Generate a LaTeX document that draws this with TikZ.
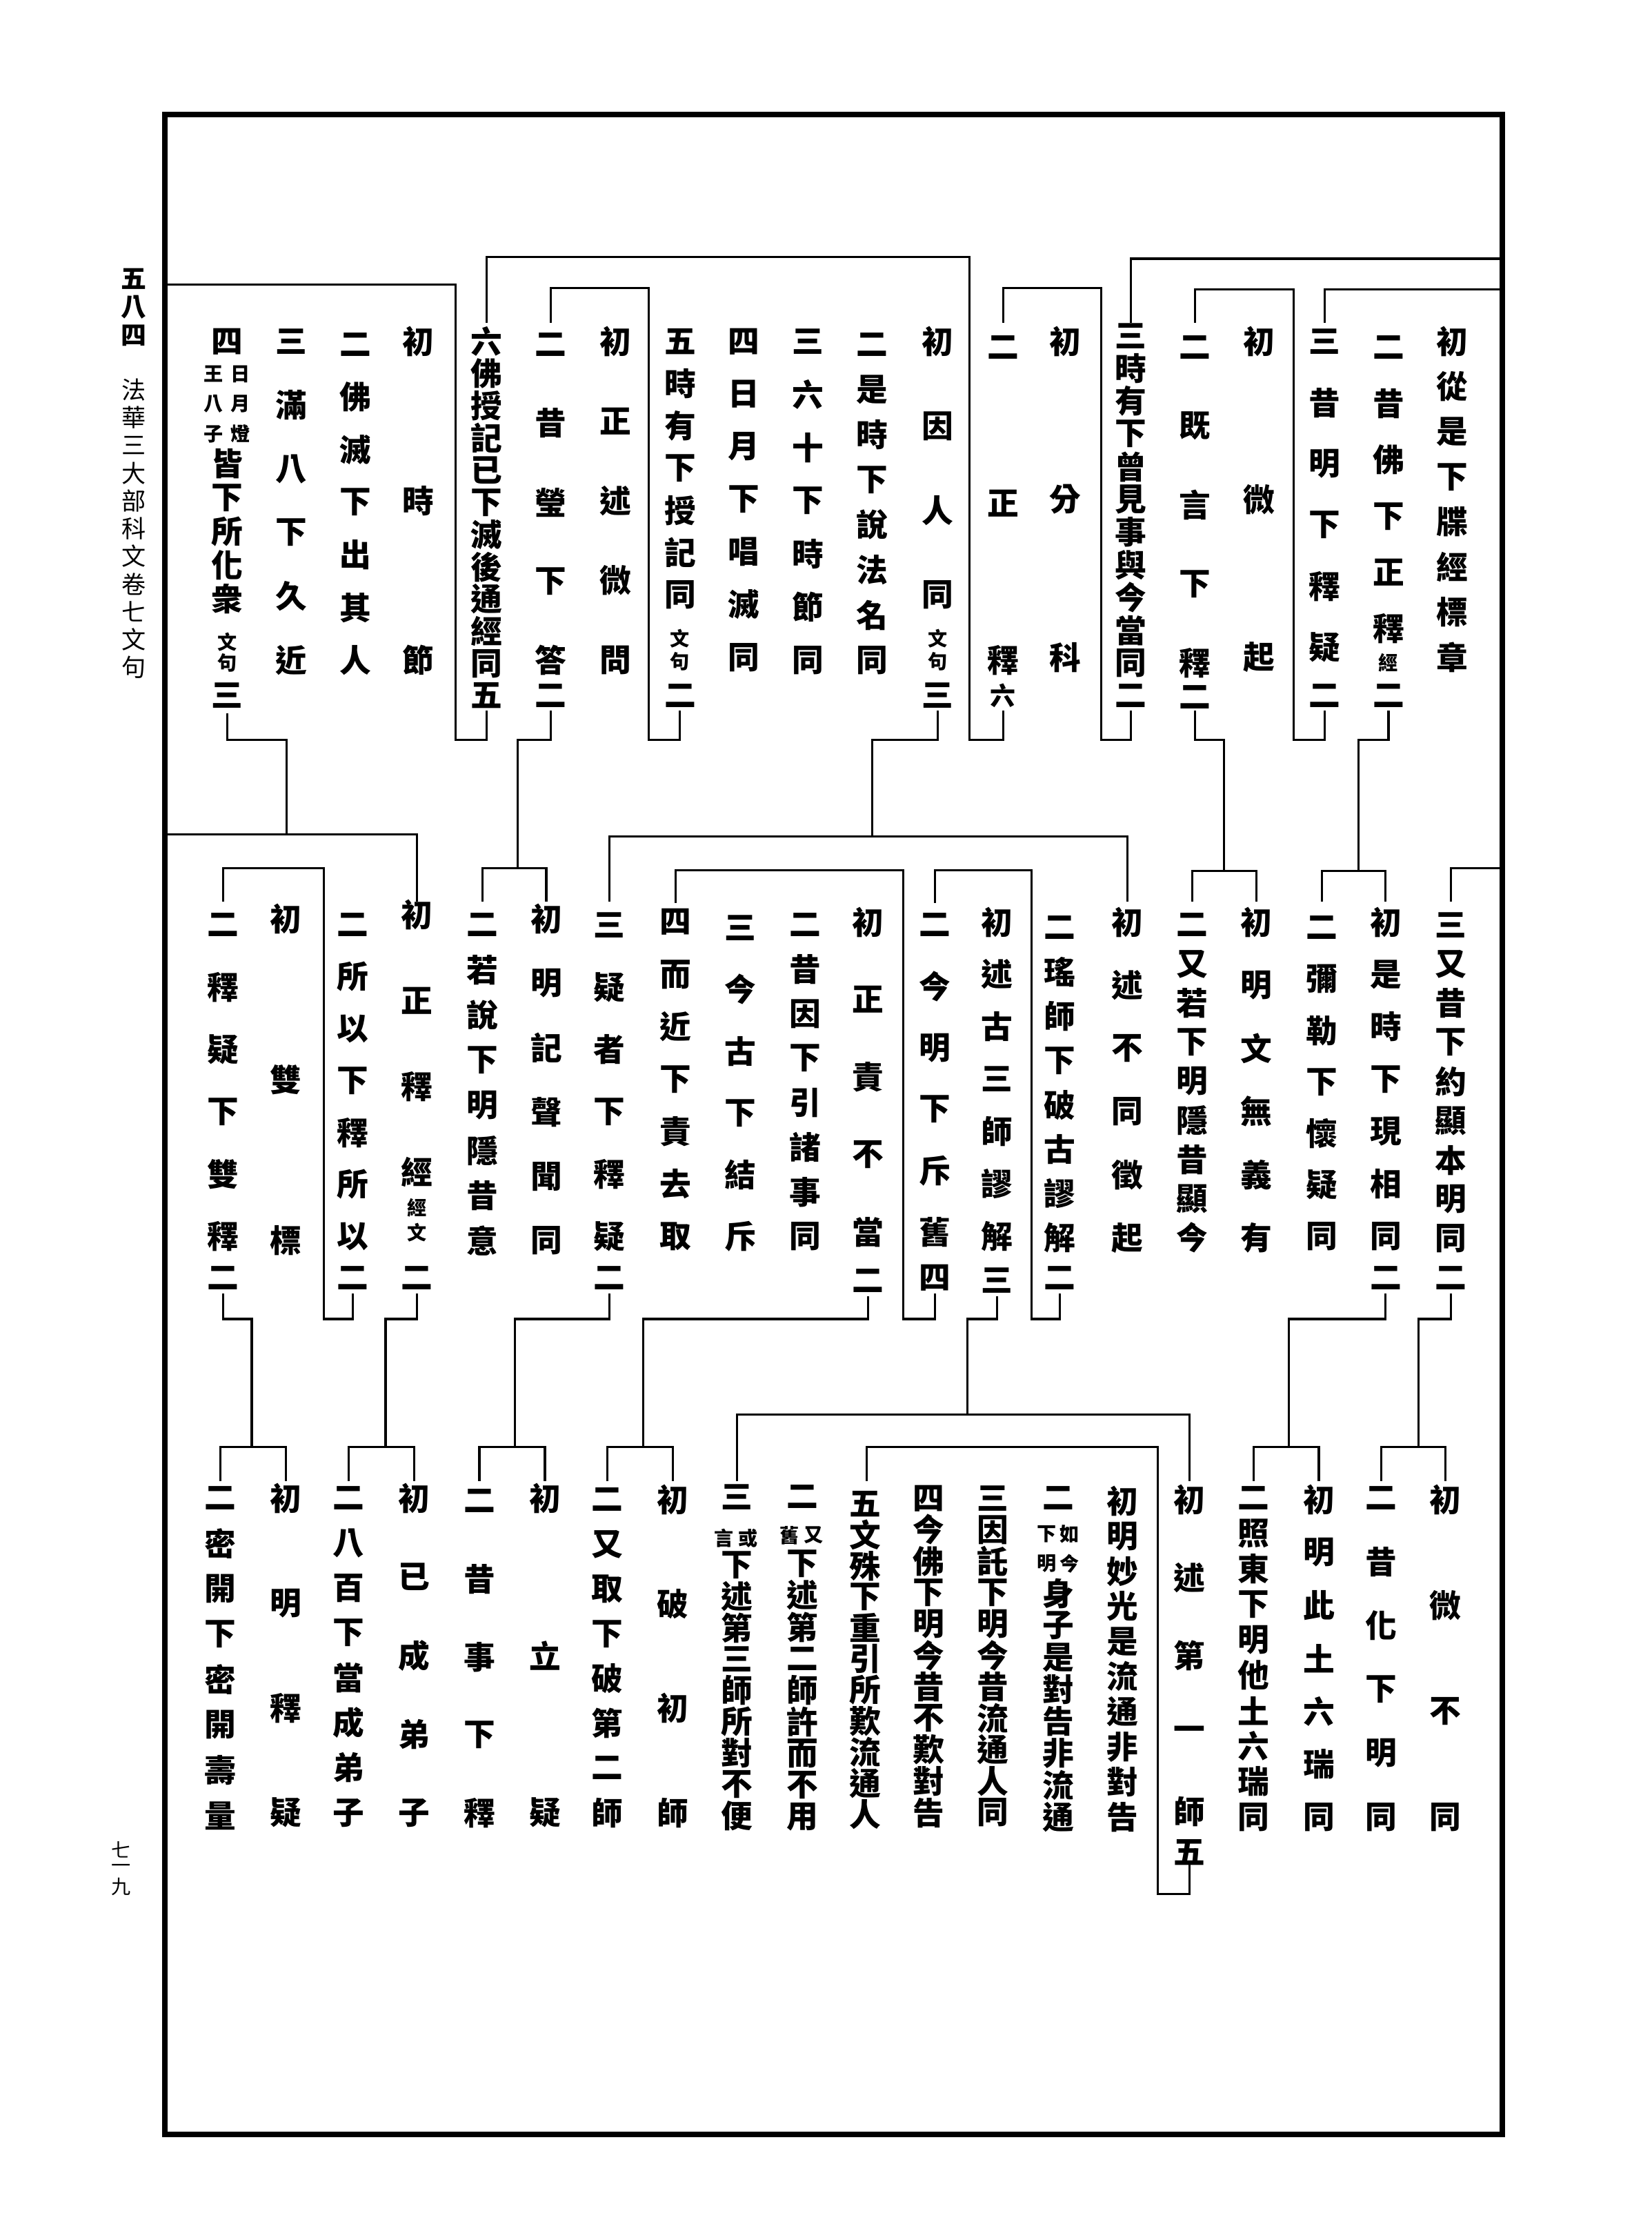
\documentclass[tikz,border=0pt]{standalone}
\usepackage{fontspec}
\newfontfamily\cjk{Noto Sans CJK TC}
\tikzset{
  ch/.style={font=\cjk\bfseries\fontsize{13}{13}\selectfont,inner sep=0pt,anchor=center},
  chs/.style={font=\cjk\bfseries\fontsize{10.5}{10.5}\selectfont,inner sep=0pt,anchor=center},
  sm/.style={font=\cjk\bfseries\fontsize{8}{8}\selectfont,inner sep=0pt,anchor=center},
  marg/.style={font=\cjk\fontsize{10}{10}\selectfont,inner sep=0pt,anchor=center},
  margb/.style={font=\cjk\bfseries\fontsize{10.5}{10.5}\selectfont,inner sep=0pt,anchor=center},
  ln/.style={line width=0.9pt,line join=miter,line cap=rect},
  frame/.style={line width=2.2pt,line join=miter}
}
% name, x, ytop, ybot, n, list
\newcommand\vcol[6]{%
  \foreach \mych [count=\i from 0] in {#6}{%
    \node[ch] (#1-\i) at (#2,{#3+\i*(#4-#3)/(#5-1)}) {\mych};
  }}
\begin{document}
\begin{tikzpicture}[x=0.2062mm,y=-0.2062mm]
\useasboundingbox (0,0) rectangle (1161,1568);
\fill[white] (0,0) rectangle (1161,1568);
% frame
\draw[frame] (116,80.5) rectangle (1056,1500);
% margin text
\foreach \mych [count=\i from 0] in {五,八,四}{\node[margb] (pg-\i) at (94,{196+\i*20}) {\mych};}
\foreach \mych [count=\i from 0] in {法,華,三,大,部,科,文,卷,七,文,句}{\node[marg] (tt-\i) at (94,{274+\i*19.5}) {\mych};}
\foreach \mych [count=\i from 0] in {七,一,九}{\node[font=\cjk\fontsize{8}{8}\selectfont,inner sep=0pt] (pn-\i) at (85,{1300+\i*13}) {\mych};}

% ================= TIER 1 =================
\vcol{a0}{1021}{240}{462}{8}{初,從,是,下,牒,經,標,章}
\vcol{a1}{976}{244}{442}{6}{二,昔,佛,下,正,釋}
\node[sm] (a1s) at (976,466) {經}; \node[ch] (a1n) at (976,489) {二};
\vcol{a2}{931}{240}{455}{6}{三,昔,明,下,釋,疑}
\node[ch] (a2n) at (931,489) {二};
\vcol{a3}{885}{240}{462}{3}{初,微,起}
\vcol{a4}{840}{244}{466}{5}{二,既,言,下,釋}
\node[ch] (a4n) at (840,490) {二};
\vcol{a5}{795}{236}{489}{12}{三,時,有,下,曾,見,事,與,今,當,同,二}
\vcol{a6}{749}{240}{462}{3}{初,分,科}
\vcol{a7}{705}{244}{464}{3}{二,正,釋}
\node[chs] (a7n) at (705,489) {六};
\vcol{a8}{659}{240}{418}{4}{初,因,人,同}
\node[sm] (a8s1) at (659,449) {文}; \node[sm] (a8s2) at (659,465) {句}; \node[ch] (a8n) at (659,489) {三};
\vcol{a9}{613}{242}{464}{8}{二,是,時,下,說,法,名,同}
\vcol{a10}{568}{240}{464}{7}{三,六,十,下,時,節,同}
\vcol{a11}{523}{240}{462}{7}{四,日,月,下,唱,滅,同}
\vcol{a12}{478}{240}{418}{7}{五,時,有,下,授,記,同}
\node[sm] (a12s1) at (478,449) {文}; \node[sm] (a12s2) at (478,465) {句}; \node[ch] (a12n) at (478,489) {二};
\vcol{a13}{432.5}{240}{464}{5}{初,正,述,微,問}
\vcol{a14}{387}{242}{464}{5}{二,昔,瑩,下,答}
\node[ch] (a14n) at (387,489) {二};
\vcol{a15}{342}{240}{489}{12}{六,佛,授,記,已,下,滅,後,通,經,同,五}
\vcol{a16}{294}{240}{464}{3}{初,時,節}
\vcol{a17}{250}{242}{464}{7}{二,佛,滅,下,出,其,人}
\vcol{a18}{205}{240}{464}{6}{三,滿,八,下,久,近}
\node[ch] (a19h) at (159.6,240) {四};
\node[sm] (a19r1) at (169,263) {日}; \node[sm] (a19r2) at (169,284) {月}; \node[sm] (a19r3) at (169,305) {燈};
\node[sm] (a19l1) at (150,263) {王}; \node[sm] (a19l2) at (150,284) {八}; \node[sm] (a19l3) at (150,305) {子};
\vcol{a19}{159.6}{326}{421}{5}{皆,下,所,化,衆}
\node[sm] (a19s1) at (160,451) {文}; \node[sm] (a19s2) at (160,466) {句}; \node[ch] (a19n) at (159.6,489) {三};

% tier 1 brackets (top)
\draw[ln] (1056,181.8) -- (795,181.8) -- (795,226);
\draw[ln] (1056,203.5) -- (931,203.5) -- (931,226);
\draw[ln] (840,226) -- (840,203.5) -- (909.5,203.5) -- (909.5,520);
\draw[ln] (705,226) -- (705,202.5) -- (774,202.5) -- (774,520);
\draw[ln] (342,226) -- (342,180.6) -- (681.4,180.6) -- (681.4,520);
\draw[ln] (387,226) -- (387,202.5) -- (456,202.5) -- (456,520);
\draw[ln] (116,200) -- (320.4,200) -- (320.4,520);
% tier 1 brackets (bottom)
\draw[ln] (976,500) -- (976,520) -- (954.7,520) -- (954.7,612);
\draw[ln] (931,500) -- (931,520) -- (909.5,520);
\draw[ln] (840,500) -- (840,520) -- (860.5,520) -- (860.5,612);
\draw[ln] (795,500) -- (795,520) -- (774,520);
\draw[ln] (705,500) -- (705,520) -- (681.4,520);
\draw[ln] (659,500) -- (659,520) -- (613,520) -- (613,588);
\draw[ln] (478,500) -- (478,520) -- (456,520);
\draw[ln] (387,500) -- (387,520) -- (364,520) -- (364,610);
\draw[ln] (342,500) -- (342,520) -- (320.4,520);
\draw[ln] (159.6,502) -- (159.6,520) -- (201.5,520) -- (201.5,586.4);

% ================= TIER 2 =================
\vcol{b0}{1020}{650}{898}{10}{三,又,昔,下,約,顯,本,明,同,二}
\vcol{b1}{974}{648}{869}{7}{初,是,時,下,現,相,同}
\node[ch] (b1n) at (974,898) {二};
\vcol{b2}{929}{652}{869}{7}{二,彌,勒,下,懷,疑,同}
\vcol{b3}{883}{648}{870}{6}{初,明,文,無,義,有}
\vcol{b4}{838}{650}{870}{9}{二,又,若,下,明,隱,昔,顯,今}
\vcol{b5}{792.4}{648}{870}{6}{初,述,不,同,徵,起}
\vcol{b6}{745}{652}{870}{8}{二,瑤,師,下,破,古,謬,解}
\node[ch] (b6n) at (745,898) {二};
\vcol{b7}{701}{648}{869}{7}{初,述,古,三,師,謬,解}
\node[ch] (b7n) at (701,900) {三};
\vcol{b8}{657}{650}{866}{6}{二,今,明,下,斥,舊}
\node[ch] (b8n) at (657,898) {四};
\vcol{b9}{610}{648}{866}{5}{初,正,責,不,當}
\node[ch] (b9n) at (610,900) {二};
\vcol{b10}{566}{650}{869}{8}{二,昔,因,下,引,諸,事,同}
\vcol{b11}{520.5}{652}{869}{6}{三,今,古,下,結,斥}
\vcol{b12}{475}{648}{869}{7}{四,而,近,下,責,去,取}
\vcol{b13}{428.5}{650}{869}{6}{三,疑,者,下,釋,疑}
\node[ch] (b13n) at (428.5,898) {二};
\vcol{b14}{384}{646}{872}{6}{初,明,記,聲,聞,同}
\vcol{b15}{339}{650}{872}{8}{二,若,說,下,明,隱,昔,意}
\vcol{b16}{293}{643}{824}{4}{初,正,釋,經}
\node[sm] (b16s1) at (293,849) {經}; \node[sm] (b16s2) at (293,866) {文}; \node[ch] (b16n) at (293,898) {二};
\vcol{b17}{248}{650}{869}{7}{二,所,以,下,釋,所,以}
\node[ch] (b17n) at (248,898) {二};
\vcol{b18}{201}{646}{872}{3}{初,雙,標}
\vcol{b19}{157}{650}{869}{6}{二,釋,疑,下,雙,釋}
\node[ch] (b19n) at (157,898) {二};

% tier 2 brackets (top)
\draw[ln] (1056,610) -- (1020,610) -- (1020,633);
\draw[ln] (929,633) -- (929,612) -- (974,612) -- (974,633);
\draw[ln] (838,633) -- (838,612) -- (883,612) -- (883,633);
\draw[ln] (428.5,633) -- (428.5,588) -- (792.4,588) -- (792.4,633);
\draw[ln] (657,634) -- (657,611.5) -- (725,611.5) -- (725,927);
\draw[ln] (475,634) -- (475,611.5) -- (635,611.5) -- (635,927);
\draw[ln] (339,633) -- (339,610) -- (384,610) -- (384,633);
\draw[ln] (116,586.4) -- (293,586.4) -- (293,633);
\draw[ln] (157,633) -- (157,610) -- (227.6,610) -- (227.6,927);
% tier 2 brackets (bottom)
\draw[ln] (1020,910) -- (1020,927) -- (997,927) -- (997,1017);
\draw[ln] (974,910) -- (974,927) -- (906,927) -- (906,1017);
\draw[ln] (745,910) -- (745,927) -- (725,927);
\draw[ln] (701,912) -- (701,927) -- (680,927) -- (680,994);
\draw[ln] (657,910) -- (657,927) -- (635,927);
\draw[ln] (610,912) -- (610,927) -- (452.3,927) -- (452.3,1017);
\draw[ln] (428.5,910) -- (428.5,927) -- (362,927) -- (362,1017);
\draw[ln] (293,910) -- (293,927) -- (271,927) -- (271,1017);
\draw[ln] (248,910) -- (248,927) -- (227.6,927);
\draw[ln] (157,910) -- (157,927) -- (177,927) -- (177,1017);

% ================= TIER 3 =================
\vcol{c0}{1016}{1054}{1277}{4}{初,微,不,同}
\vcol{c1}{971}{1053}{1277}{6}{二,昔,化,下,明,同}
\vcol{c2}{927}{1054}{1277}{7}{初,明,此,土,六,瑞,同}
\vcol{c3}{881}{1053}{1277}{10}{二,照,東,下,明,他,土,六,瑞,同}
\vcol{c4}{836}{1054}{1273}{5}{初,述,第,一,師}
\node[ch] (c4n) at (836,1302) {五};
\vcol{c5}{789}{1055}{1277}{10}{初,明,妙,光,是,流,通,非,對,告}
\node[ch] (c6h) at (744,1053) {二};
\node[sm] (c6r1) at (752,1078) {如}; \node[sm] (c6r2) at (752,1099) {今};
\node[sm] (c6l1) at (736,1078) {下}; \node[sm] (c6l2) at (736,1099) {明};
\vcol{c6}{744}{1120}{1277}{8}{身,子,是,對,告,非,流,通}
\vcol{c7}{698}{1053}{1274}{11}{三,因,託,下,明,今,昔,流,通,人,同}
\vcol{c8}{653}{1053}{1274}{11}{四,今,佛,下,明,今,昔,不,歎,對,告}
\vcol{c9}{608}{1057}{1275}{11}{五,文,殊,下,重,引,所,歎,流,通,人}
\node[ch] (c10h) at (564,1052) {二};
\node[sm] (c10r) at (572,1079) {又}; \node[sm] (c10l) at (555,1079) {舊};
\vcol{c10}{564}{1099}{1277}{9}{下,述,第,二,師,許,而,不,用}
\node[ch] (c11h) at (518,1052) {三};
\node[sm] (c11r) at (526,1081) {或}; \node[sm] (c11l) at (509,1081) {言};
\vcol{c11}{518}{1100}{1276}{9}{下,述,第,三,師,所,對,不,便}
\vcol{c12}{473}{1054}{1274}{4}{初,破,初,師}
\vcol{c13}{427}{1054}{1274}{8}{二,又,取,下,破,第,二,師}
\vcol{c14}{383}{1053}{1274}{3}{初,立,疑}
\vcol{c15}{337}{1055}{1274}{5}{二,昔,事,下,釋}
\vcol{c16}{291}{1053}{1274}{5}{初,已,成,弟,子}
\vcol{c17}{245}{1053}{1274}{8}{二,八,百,下,當,成,弟,子}
\vcol{c18}{201}{1053}{1274}{4}{初,明,釋,疑}
\vcol{c19}{155}{1053}{1276}{8}{二,密,開,下,密,開,壽,量}

% tier 3 brackets
\draw[ln] (971,1040) -- (971,1017) -- (1016,1017) -- (1016,1040);
\draw[ln] (881,1040) -- (881,1017) -- (927,1017) -- (927,1040);
\draw[ln] (518,1040) -- (518,994) -- (836,994) -- (836,1040);
\draw[ln] (609,1040) -- (609,1017) -- (814,1017) -- (814,1331);
\draw[ln] (836,1310) -- (836,1331) -- (814,1331);
\draw[ln] (427,1040) -- (427,1017) -- (473,1017) -- (473,1040);
\draw[ln] (337,1040) -- (337,1017) -- (383,1017) -- (383,1040);
\draw[ln] (245,1040) -- (245,1017) -- (291,1017) -- (291,1040);
\draw[ln] (155,1040) -- (155,1017) -- (201,1017) -- (201,1040);
\end{tikzpicture}
\end{document}
